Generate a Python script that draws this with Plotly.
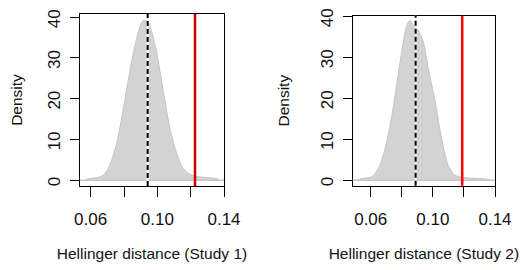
import plotly.graph_objects as go

# Study 1 density
s1_x = [0.0568, 0.0596, 0.0656, 0.0686, 0.0716, 0.0756, 0.0796, 0.0836, 0.0866, 0.0896, 0.0916,
        0.0946, 0.0966, 0.0996, 0.1036, 0.1076, 0.1116, 0.1156, 0.1196, 0.1256, 0.1316, 0.1356, 0.1368]
s1_y = [0.1, 0.4, 0.8, 1.6, 3.8, 9.0, 17.5, 27.0, 33.0, 37.8, 39.2,
        38.8, 36.4, 31.4, 21.8, 12.6, 6.6, 2.8, 1.4, 0.8, 0.55, 0.4, 0.1]

# Study 2 density
s2_x = [0.0518, 0.0542, 0.0606, 0.0649, 0.0692, 0.0735, 0.0777, 0.0810, 0.0832, 0.0853, 0.0874,
        0.0906, 0.0938, 0.0970, 0.1013, 0.1057, 0.1099, 0.1142, 0.1206, 0.1292, 0.1356, 0.1366]
s2_y = [0.1, 0.4, 0.8, 2.8, 7.6, 15.5, 25.8, 33.8, 37.8, 39.0, 37.8,
        36.6, 33.8, 27.4, 19.5, 10.0, 3.6, 1.2, 0.6, 0.4, 0.2, 0.1]

mean_lines = [0.0942, 0.0889]
observed_lines = [0.1226, 0.1189]
observed_colors = ["#cc0000", "#ff0000"]

x_tick_vals = [0.06, 0.08, 0.10, 0.12, 0.14]
x_tick_text = ["0.06", "", "0.10", "", "0.14"]
y_tick_vals = [0, 10, 20, 30, 40]
y_tick_text = ["0", "10", "20", "30", "40"]
x_titles = ["Hellinger distance (Study 1)", "Hellinger distance (Study 2)"]

# page has an 8px body margin; figure is sized to fit inside the window without scrolling
OFF = 8
W, H = 529 - 2 * OFF, 270 - 2 * OFF


def dx(p0, p1):
    return [(p0 - OFF) / W, (p1 - OFF) / W]


def dy(top, bottom):
    return [1 - (bottom - OFF) / H, 1 - (top - OFF) / H]


fig = go.Figure()
series = [(s1_x, s1_y), (s2_x, s2_y)]
for i, (xs, ys) in enumerate(series):
    xa = "x" if i == 0 else "x2"
    ya = "y" if i == 0 else "y2"
    fig.add_trace(go.Scatter(x=xs, y=ys, xaxis=xa, yaxis=ya, mode="lines",
                             line=dict(color="#c4c4c4", width=1, shape="spline", smoothing=0.7),
                             fill="tozeroy", fillcolor="#d3d3d3", showlegend=False,
                             hoverinfo="skip"))

for i in range(2):
    xr = "x" if i == 0 else "x2"
    yr = "y domain" if i == 0 else "y2 domain"
    ydr = "y" if i == 0 else "y2"
    fig.add_shape(type="line", xref=("x domain" if i == 0 else "x2 domain"), yref=ydr,
                  x0=0, x1=1, y0=0, y1=0, line=dict(color="#c8c8c8", width=1.5))
    fig.add_shape(type="line", xref=xr, yref=yr, x0=mean_lines[i], x1=mean_lines[i], y0=0, y1=1,
                  line=dict(color="white", width=2))
    fig.add_shape(type="line", xref=xr, yref=yr, x0=mean_lines[i], x1=mean_lines[i], y0=0, y1=1,
                  line=dict(color="black", width=2, dash="5px,3px"))
    fig.add_shape(type="line", xref=xr, yref=yr, x0=observed_lines[i], x1=observed_lines[i], y0=0, y1=1,
                  line=dict(color=observed_colors[i], width=2.5))

font = dict(family="Liberation Sans, Arial, sans-serif", size=17, color="#111111")
title_font = dict(family="Liberation Sans, Arial, sans-serif", size=15.5, color="#111111")
xcommon = dict(tickvals=x_tick_vals, ticktext=x_tick_text, ticks="outside", ticklen=10,
               tickcolor="black", showline=True, linecolor="black", linewidth=1, mirror=True,
               showgrid=False, zeroline=False, tickfont=font, ticklabelstandoff=8,
               title_font=title_font, title_standoff=26, automargin=False)
ycommon = dict(tickvals=y_tick_vals, ticktext=y_tick_text, ticks="outside", ticklen=9,
               tickcolor="black", showline=True, linecolor="black", linewidth=1, mirror=True,
               showgrid=False, zeroline=False, tickfont=font, tickangle=-90, ticklabelstandoff=3,
               ticklabelshift=4, ticklabeloverflow="allow",
               title_font=title_font, title_standoff=24, title_text="Density", automargin=False)

fig.update_layout(
    width=W, height=H, autosize=False,
    margin=dict(l=0, r=0, t=0, b=0),
    paper_bgcolor="white", plot_bgcolor="white",
    xaxis=dict(domain=dx(80, 224), range=[0.0536, 0.1400], anchor="y",
               title_text=x_titles[0], **xcommon),
    yaxis=dict(domain=dy(14, 186), range=[-1.44, 40.8], anchor="x", **ycommon),
    xaxis2=dict(domain=dx(352.7, 495), range=[0.0484, 0.1400], anchor="y2",
                title_text=x_titles[1], **xcommon),
    yaxis2=dict(domain=dy(15.7, 185.7), range=[-1.36, 40.15], anchor="x2", **ycommon),
)

fig.write_html("out.html")
